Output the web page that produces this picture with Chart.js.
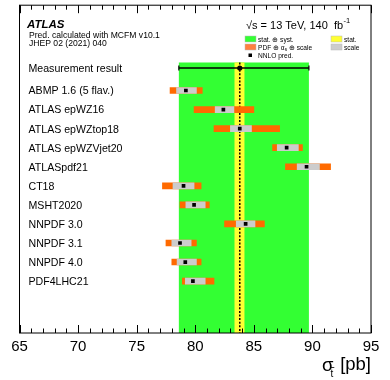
<!DOCTYPE html>
<html><head><meta charset="utf-8">
<script src="https://cdn.jsdelivr.net/npm/chart.js@4"></script>
<style>html,body{margin:0;padding:0;background:#fff}#wrap{width:390px;height:380px}</style>
</head><body><div id="wrap"><canvas id="c" width="390" height="380"></canvas></div>
<script>
// ---- data ----
const predLabels = ["ABMP 1.6 (5 flav.)","ATLAS epWZ16","ATLAS epWZtop18","ATLAS epWZVjet20","ATLASpdf21","CT18","MSHT2020","NNPDF 3.0","NNPDF 3.1","NNPDF 4.0","PDF4LHC21"];
const predCentral = [79.2, 82.4, 83.8, 87.8, 89.5, 79.0, 79.9, 84.3, 78.7, 79.15, 79.8];
const scaleLo = [78.4, 81.7, 83.0, 87.0, 88.7, 78.1, 79.2, 83.5, 78.0, 78.45, 79.15];
const scaleHi = [80.1, 83.3, 84.8, 88.8, 90.6, 79.9, 80.85, 85.1, 79.65, 80.1, 80.85];
const pdfLo = [77.85, 79.9, 81.6, 86.6, 87.7, 77.2, 78.7, 82.5, 77.5, 78.0, 78.9];
const pdfHi = [80.6, 85.0, 87.2, 89.15, 91.55, 80.5, 81.2, 85.9, 80.1, 80.5, 81.6];
const measLabel = "Measurement result";
const measCentral = [83.8];
const measStat = [83.35, 84.2];
const measTotal = [78.6, 89.7];
const xTicks = [65, 70, 75, 80, 85, 90, 95];

// ---- layout constants ----
const MEAS_ROW = -0.18;
const BAND_TOP = -0.47;
const Y_MIN = -3.476, Y_MAX = 13.723;
const FONT = '"Liberation Sans", Arial, Helvetica, sans-serif';
const GREEN = '#33ff33', YELLOW = '#ffff33', ORANGE = '#ff6a00', GREY = '#cccccc';

const rows = predLabels.map((_, i) => i + 1);

const decor = {
  id: 'decor',
  beforeDatasetsDraw(chart) {
    const {ctx, chartArea: a, scales: {x, y}} = chart;
    const top = y.getPixelForValue(BAND_TOP), bot = a.bottom;
    ctx.save();
    ctx.fillStyle = GREEN;
    const g0 = x.getPixelForValue(measTotal[0]), g1 = x.getPixelForValue(measTotal[1]);
    ctx.fillRect(g0, top, g1 - g0, bot - top);
    ctx.fillStyle = YELLOW;
    const s0 = x.getPixelForValue(measStat[0]), s1 = x.getPixelForValue(measStat[1]);
    ctx.fillRect(s0, top, s1 - s0, bot - top);
    const cx = x.getPixelForValue(measCentral[0]);
    ctx.strokeStyle = '#000'; ctx.lineWidth = 1.5; ctx.setLineDash([2, 1.6]);
    ctx.beginPath(); ctx.moveTo(cx, top); ctx.lineTo(cx, bot); ctx.stroke();
    ctx.restore();
  },
  afterDatasetsDraw(chart) {
    const {ctx, chartArea: a, scales: {x, y}} = chart;
    ctx.save();
    // frame
    ctx.strokeStyle = '#000'; ctx.lineWidth = 1;
    ctx.strokeRect(a.left, a.top, a.right - a.left, a.bottom - a.top);
    // ticks
    ctx.beginPath();
    for (let v = xTicks[0]; v <= xTicks[xTicks.length - 1]; v += 1) {
      const px = Math.round(x.getPixelForValue(v)) + 0.5;
      const len = (v % 5 === 0) ? 8 : 4.5;
      ctx.moveTo(px, a.bottom); ctx.lineTo(px, a.bottom - len);
      ctx.moveTo(px, a.top); ctx.lineTo(px, a.top + len);
    }
    ctx.stroke();
    // row labels
    ctx.fillStyle = '#000'; ctx.textBaseline = 'middle'; ctx.textAlign = 'left';
    ctx.font = '10.6px ' + FONT;
    ctx.fillText(measLabel, 28.5, y.getPixelForValue(MEAS_ROW) + 1);
    predLabels.forEach((l, i) => ctx.fillText(l, 28.5, y.getPixelForValue(rows[i]) + 1));
    // top-left texts
    ctx.textBaseline = 'alphabetic';
    ctx.font = 'bold italic 11.5px ' + FONT;
    ctx.fillText('ATLAS', 27, 27.5);
    ctx.font = '8.6px ' + FONT;
    ctx.fillText('Pred. calculated with MCFM v10.1', 29, 37.5);
    ctx.fillText('JHEP 02 (2021) 040', 29, 46);
    // energy / lumi
    ctx.font = '11px ' + FONT;
    let tx = 246;
    const t1 = '\u221As = 13 TeV, 140  fb';
    ctx.fillText(t1, tx, 28.5);
    tx += ctx.measureText(t1).width;
    ctx.font = '7.5px ' + FONT;
    ctx.fillText('-1', tx + 0.5, 23);
    // legend
    const lg = (col, bx, by) => {
      ctx.fillStyle = col; ctx.fillRect(bx, by, 11, 6);
      ctx.strokeStyle = '#bbb'; ctx.lineWidth = 0.5; ctx.strokeRect(bx, by, 11, 6);
      ctx.fillStyle = '#000';
    };
    ctx.font = '6.6px ' + FONT;
    lg(GREEN, 245, 36); ctx.fillText('stat. \u2295 syst.', 258, 41.5);
    lg('#ff7f3f', 245, 44);
    let lx = 258;
    const p1 = 'PDF \u2295 \u03B1';
    ctx.fillText(p1, lx, 49.5); lx += ctx.measureText(p1).width;
    ctx.font = '4.8px ' + FONT; ctx.fillText('s', lx, 51); lx += ctx.measureText('s').width;
    ctx.font = '6.6px ' + FONT; ctx.fillText(' \u2295 scale', lx, 49.5);
    ctx.fillRect(248.5, 53.5, 3.5, 3.5);
    ctx.fillText('NNLO pred.', 258, 57.5);
    lg(YELLOW, 331, 36); ctx.fillText('stat.', 344, 41.5);
    lg(GREY, 331, 44); ctx.fillText('scale', 344, 49.5);
    // axis title
    ctx.font = '18.5px ' + FONT;
    ctx.fillText('\u03C3', 322, 371);
    ctx.font = '10px ' + FONT;
    ctx.fillText('t', 330.5, 376.5);
    ctx.lineWidth = 0.8; ctx.strokeStyle = '#000';
    ctx.beginPath(); ctx.moveTo(330.3, 367.5); ctx.lineTo(334.3, 367.5); ctx.stroke();
    ctx.font = '18.5px ' + FONT; ctx.textAlign = 'right';
    ctx.fillText('[pb]', 371, 370);
    ctx.restore();
  }
};

new Chart(document.getElementById('c'), {
  type: 'bar',
  data: {
    datasets: [
      { type: 'line', data: [{x: measTotal[0], y: MEAS_ROW}, {x: measTotal[1], y: MEAS_ROW}],
        borderColor: '#000', borderWidth: 1.5, pointStyle: 'line', rotation: 90, pointRadius: 2.5,
        pointBorderColor: '#000', pointBorderWidth: 1.2, order: 3 },
      { type: 'line', data: [{x: measCentral[0], y: MEAS_ROW}], showLine: false,
        pointStyle: 'circle', pointRadius: 2.6, pointBackgroundColor: '#000', pointBorderWidth: 0, order: 1 },
      { data: rows.map((r, i) => ({x: [pdfLo[i], pdfHi[i]], y: r})), backgroundColor: ORANGE,
        barThickness: 6, grouped: false, borderWidth: 0, order: 5 },
      { data: rows.map((r, i) => ({x: [scaleLo[i], scaleHi[i]], y: r})), backgroundColor: GREY,
        barThickness: 6, grouped: false, borderWidth: 0, order: 4 },
      { type: 'line', data: rows.map((r, i) => ({x: predCentral[i], y: r})), showLine: false,
        pointStyle: 'rect', pointRadius: 2.6, pointBackgroundColor: '#000', pointBorderWidth: 0, order: 2 }
    ]
  },
  options: {
    indexAxis: 'y',
    responsive: false, animation: false, devicePixelRatio: 1,
    layout: { padding: { left: 19.5, right: 19, top: 4.5, bottom: 0 } },
    plugins: { legend: { display: false }, tooltip: { enabled: false } },
    scales: {
      x: { type: 'linear', min: 65, max: 95, position: 'bottom', offset: false,
        grid: { display: false, drawTicks: false }, border: { display: false },
        afterBuildTicks: (s) => { s.ticks = xTicks.map(v => ({value: v})); },
        ticks: { color: '#000', font: { size: 15, family: FONT }, padding: 5, maxRotation: 0, autoSkip: false },
        afterFit: (s) => { s.height = 47; } },
      y: { type: 'linear', reverse: true, min: Y_MIN, max: Y_MAX, display: false, offset: false }
    }
  },
  plugins: [decor]
});
</script></body></html>
